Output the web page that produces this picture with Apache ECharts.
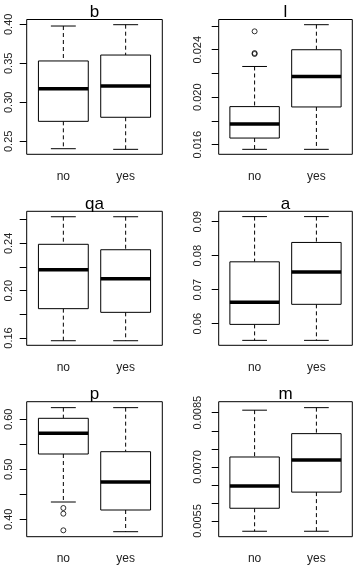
<!DOCTYPE html>
<html>
<head>
<meta charset="utf-8">
<script src="https://cdn.jsdelivr.net/npm/echarts@6/dist/echarts.min.js"></script>
<style>
  html, body { margin: 0; padding: 0; background: #fff; }
  #main { width: 356px; height: 566px; }
</style>
</head>
<body>
<div id="main"></div>
<script>
// groups on the x axis
var groups = ['no', 'yes'];

// box stats per group: [lower whisker, Q1, median, Q3, upper whisker]
var bNo = [0.2405, 0.2756, 0.3174, 0.3530, 0.3978];
var bYes = [0.2397, 0.2808, 0.3209, 0.3606, 0.3995];
var lNo = [0.01561, 0.01656, 0.01775, 0.01921, 0.02259];
var lYes = [0.01561, 0.01918, 0.02174, 0.02400, 0.02611];
var qaNo = [0.1577, 0.1848, 0.2177, 0.2392, 0.2625];
var qaYes = [0.1577, 0.1817, 0.2101, 0.2346, 0.2625];
var aNo = [0.0551, 0.0598, 0.0663, 0.0782, 0.0915];
var aYes = [0.0551, 0.0657, 0.0752, 0.0839, 0.0915];
var pNo = [0.4346, 0.5306, 0.5720, 0.6020, 0.6233];
var pYes = [0.3752, 0.4186, 0.4746, 0.5352, 0.6233];
var mNo = [0.005216, 0.005853, 0.00647, 0.007273, 0.00857];
var mYes = [0.005216, 0.0063, 0.00719, 0.00792, 0.00864];

// outliers (all in group "no")
var lOut = [0.02555, 0.02372, 0.02364];
var pOut = [0.4226, 0.4112, 0.3780];

// tick labels that are printed
var bTicks = ['0.25', '0.30', '0.35', '0.40'];
var lTicks = ['0.016', '0.020', '0.024'];
var qaTicks = ['0.16', '0.20', '0.24'];
var aTicks = ['0.06', '0.07', '0.08', '0.09'];
var pTicks = ['0.40', '0.50', '0.60'];
var mTicks = ['0.0055', '0.0070', '0.0085'];

var FONT = 'Liberation Sans';
var col = [{l: 26.7, r: 162.3, inset: 5.5, lm: 12}, {l: 218.7, r: 352.3, inset: 5, lm: 15}];
var row = [{t: 19.5, b: 154.3}, {t: 211.3, b: 345.3}, {t: 401.7, b: 536.7}];

var panels = [
    {name: 'b', c: 0, r: 0, stats: [bNo, bYes], out: [], ticks: bTicks, dec: 2, min: 0.25, max: 0.40, step: 0.05, pxMax: 24.3, pxMin: 141.3},
    {name: 'l', c: 1, r: 0, stats: [lNo, lYes], out: lOut, ticks: lTicks, dec: 3, min: 0.016, max: 0.026, step: 0.002, pxMax: 26, pxMin: 144.7},
    {name: 'qa', c: 0, r: 1, stats: [qaNo, qaYes], out: [], ticks: qaTicks, dec: 2, min: 0.16, max: 0.26, step: 0.02, pxMax: 219.7, pxMin: 338},
    {name: 'a', c: 1, r: 1, stats: [aNo, aYes], out: [], ticks: aTicks, dec: 2, min: 0.06, max: 0.09, step: 0.01, pxMax: 221.7, pxMin: 323.7},
    {name: 'p', c: 0, r: 2, stats: [pNo, pYes], out: pOut, ticks: pTicks, dec: 2, min: 0.40, max: 0.60, step: 0.05, pxMax: 419.3, pxMin: 519.3},
    {name: 'm', c: 1, r: 2, stats: [mNo, mYes], out: [], ticks: mTicks, dec: 4, min: 0.0055, max: 0.0085, step: 0.0005, pxMax: 412.7, pxMin: 521}
];

function renderBox(params, api) {
    var x = api.value(0);
    var low = api.coord([x, api.value(1)]);
    var q1 = api.coord([x, api.value(2)]);
    var med = api.coord([x, api.value(3)]);
    var q3 = api.coord([x, api.value(4)]);
    var high = api.coord([x, api.value(5)]);
    var band = api.size([1, 0])[0];
    var hw = band * 0.4, sw = band * 0.2, cx = low[0];
    var solid = {stroke: '#000', lineWidth: 1};
    var dash = {stroke: '#000', lineWidth: 1, lineDash: [4, 3]};
    return {
        type: 'group',
        children: [
            {type: 'line', shape: {x1: cx, y1: high[1], x2: cx, y2: q3[1]}, style: dash},
            {type: 'line', shape: {x1: cx, y1: q1[1], x2: cx, y2: low[1]}, style: dash},
            {type: 'line', shape: {x1: cx - sw, y1: high[1], x2: cx + sw, y2: high[1]}, style: solid},
            {type: 'line', shape: {x1: cx - sw, y1: low[1], x2: cx + sw, y2: low[1]}, style: solid},
            {type: 'rect', shape: {x: cx - hw, y: q3[1], width: hw * 2, height: q1[1] - q3[1]},
                style: {fill: '#fff', stroke: '#000', lineWidth: 1}},
            {type: 'line', shape: {x1: cx - hw, y1: med[1], x2: cx + hw, y2: med[1]},
                style: {stroke: '#000', lineWidth: 3.5}}
        ]
    };
}

var grids = [], xAxes = [], yAxes = [], series = [], graphics = [];
panels.forEach(function (p, i) {
    var c = col[p.c], r = row[p.r];
    grids.push({
        left: c.l + c.inset, top: p.pxMax,
        width: c.r - c.l - 2 * c.inset, height: p.pxMin - p.pxMax
    });
    xAxes.push({
        type: 'category', gridIndex: i, data: groups,
        offset: r.b - p.pxMin,
        axisLine: {show: false},
        axisTick: {alignWithLabel: true, length: 7, lineStyle: {color: '#000'}},
        axisLabel: {margin: 16, fontFamily: FONT, fontSize: 12, color: '#222'}
    });
    yAxes.push({
        type: 'value', gridIndex: i, min: p.min, max: p.max, interval: p.step,
        offset: c.inset,
        splitLine: {show: false},
        axisLine: {show: false},
        axisTick: {show: true, length: 7, lineStyle: {color: '#000'}},
        axisLabel: {
            rotate: 90, margin: c.lm, fontFamily: FONT, fontSize: 11, color: '#222',
            formatter: function (v) {
                var s = v.toFixed(p.dec);
                return p.ticks.indexOf(s) >= 0 ? s : '';
            }
        }
    });
    series.push({
        type: 'custom', xAxisIndex: i, yAxisIndex: i,
        renderItem: renderBox,
        encode: {x: 0, y: [1, 2, 3, 4, 5]},
        data: p.stats.map(function (s, k) { return [k].concat(s); })
    });
    if (p.out.length) {
        series.push({
            type: 'scatter', xAxisIndex: i, yAxisIndex: i, clip: false,
            symbol: 'circle', symbolSize: 5,
            itemStyle: {color: 'rgba(0,0,0,0)', borderColor: '#000', borderWidth: 1},
            data: p.out.map(function (v) { return ['no', v]; })
        });
    }
    graphics.push({
        type: 'rect', z: 100,
        shape: {x: c.l, y: r.t, width: c.r - c.l, height: r.b - r.t},
        style: {fill: 'none', stroke: '#000', lineWidth: 1}
    });
    graphics.push({
        type: 'text', z: 100,
        x: (c.l + c.r) / 2, y: r.t - 7,
        style: {text: p.name, font: '17px "' + FONT + '"', fill: '#000', align: 'center', verticalAlign: 'middle'}
    });
});

var myChart = echarts.init(document.getElementById('main'));
var option = {
    animation: false,
    backgroundColor: '#fff',
    grid: grids,
    xAxis: xAxes,
    yAxis: yAxes,
    series: series,
    graphic: graphics
};
myChart.setOption(option);
</script>
</body>
</html>
